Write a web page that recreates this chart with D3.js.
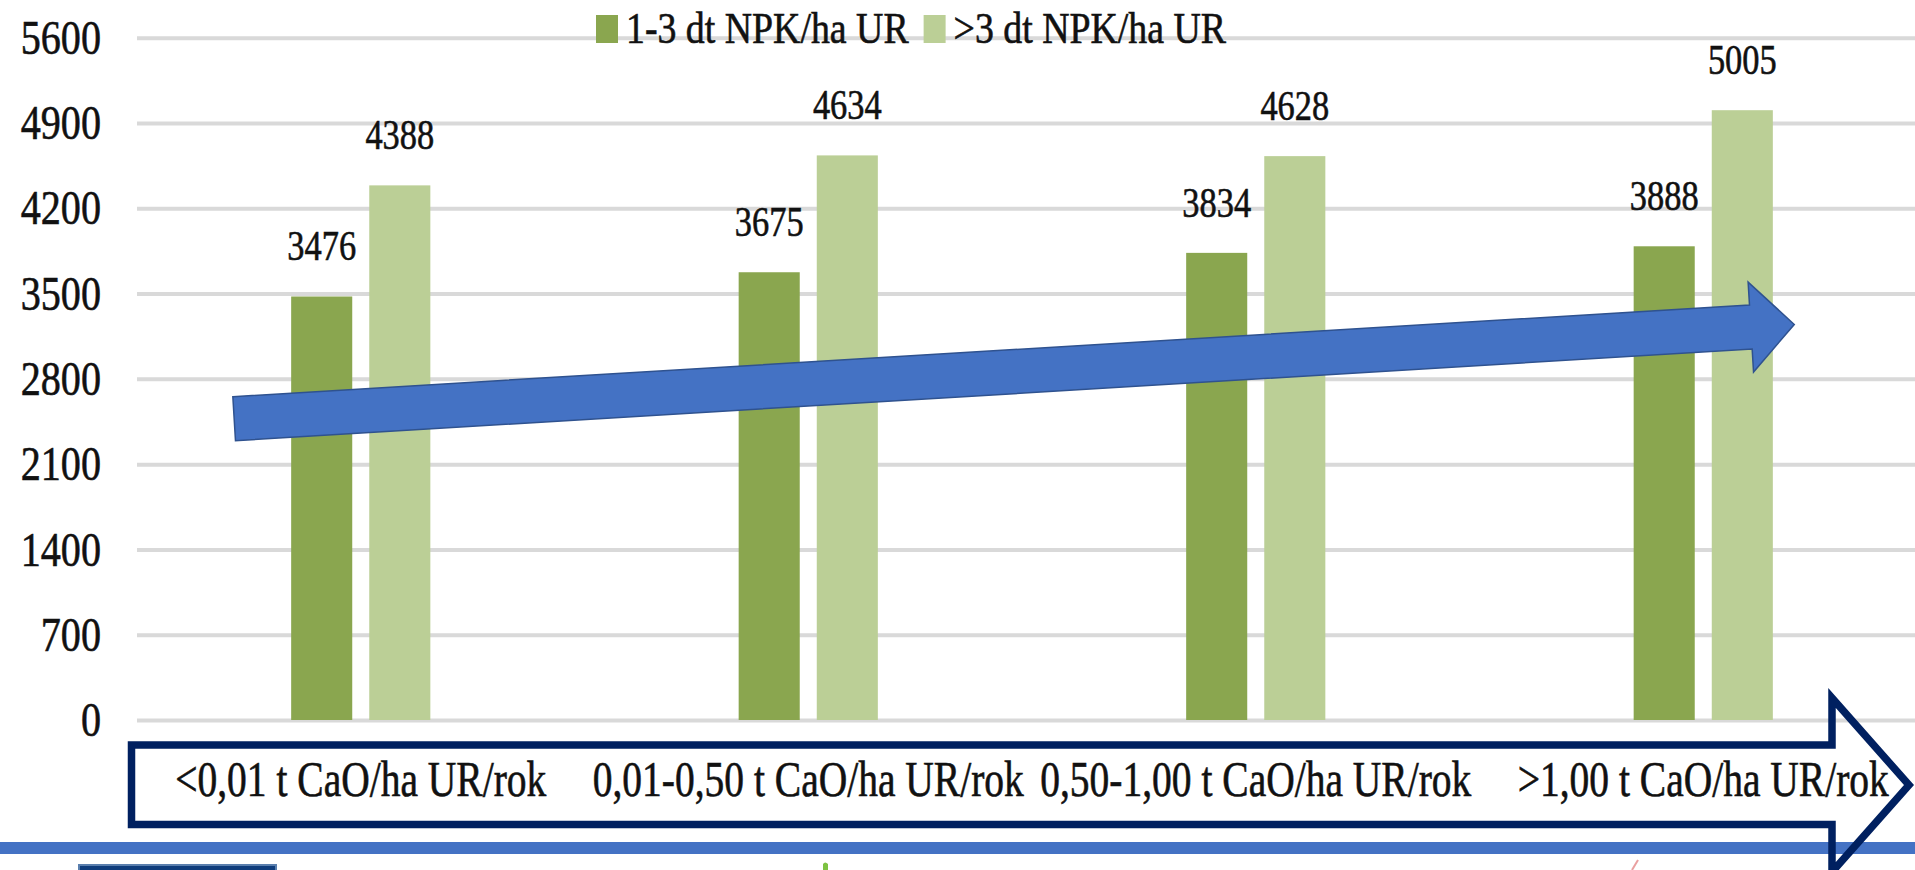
<!DOCTYPE html>
<html>
<head>
<meta charset="utf-8">
<script src="https://cdn.jsdelivr.net/npm/d3@7"></script>
<style>
  body { margin: 0; background: #fff; }
  svg { display: block; }
  text { font-family: "Liberation Serif", "Times New Roman", serif; fill: #111; stroke: #111; stroke-width: 0.6px; }
</style>
</head>
<body>
<svg id="chart"></svg>
<script>
// values
var categories = ["<0,01 t CaO/ha UR/rok", "0,01-0,50 t CaO/ha UR/rok", "0,50-1,00 t CaO/ha UR/rok", ">1,00 t CaO/ha UR/rok"];
var seriesNames = ["1-3 dt NPK/ha UR", ">3 dt NPK/ha UR"];
var lowNpk = [3476, 3675, 3834, 3888];
var highNpk = [4388, 4634, 4628, 5005];
var yTicks = [0, 700, 1400, 2100, 2800, 3500, 4200, 4900, 5600];
var trendEnds = [2473, 3225]; // centre of the blue arrow, in y units, at its tail and head

var colors = ["#8aa64f", "#bbcf96"];
var width = 1915, height = 870;
var sx = 0.8; // the source chart is squeezed horizontally

var svg = d3.select("#chart").attr("width", width).attr("height", height);

var x0 = d3.scaleBand().domain(categories).range([137, 1927]).paddingInner(0.689).paddingOuter(0.3445);
var x1 = d3.scaleBand().domain(seriesNames).range([0, x0.bandwidth()]).paddingInner(0.218);
var y = d3.scaleLinear().domain([0, 5600]).range([720, 37.7]);

// gridlines + tick labels
var yAxis = svg.append("g")
  .attr("transform", "translate(137,0)")
  .call(d3.axisLeft(y).tickValues(yTicks).tickSize(-(width - 137)).tickFormat(d3.format("d")));
yAxis.select(".domain").remove();
yAxis.selectAll("line").attr("stroke", "#d9d9d9").attr("stroke-width", 4);
yAxis.selectAll("text")
  .attr("x", null)
  .attr("transform", "translate(-36,0) scale(0.82,1)")
  .style("font-family", '"Liberation Serif", serif')
  .style("font-size", "49px")
  .attr("fill", "#111");

// bars
var rows = categories.map(function(c, i) { return {cat: c, vals: [lowNpk[i], highNpk[i]]}; });

var group = svg.selectAll(".grp")
  .data(rows)
  .enter().append("g")
    .attr("class", "grp")
    .attr("transform", function(d) { return "translate(" + x0(d.cat) + ",0)"; });

var bar = group.selectAll("g")
  .data(function(d) { return d.vals.map(function(v, i) { return {s: seriesNames[i], v: v, i: i}; }); })
  .enter().append("g");

bar.append("rect")
  .attr("x", function(d) { return x1(d.s); })
  .attr("y", function(d) { return y(d.v); })
  .attr("width", x1.bandwidth())
  .attr("height", function(d) { return y(0) - y(d.v); })
  .attr("fill", function(d) { return colors[d.i]; });

bar.append("text")
  .attr("transform", function(d) {
    return "translate(" + (x1(d.s) + x1.bandwidth() / 2) + "," + (y(d.v) - 36) + ") scale(" + sx + ",1)";
  })
  .attr("text-anchor", "middle")
  .style("font-size", "43px")
  .text(function(d) { return d.v; });

// blue trend arrow
(function() {
  var tail = [x0(categories[0]) - 57, y(trendEnds[0])];
  var head = [x0(categories[3]) + x0.bandwidth() - 22, y(trendEnds[1])];
  var dx = head[0] - tail[0], dy = head[1] - tail[1], len = Math.sqrt(dx * dx + dy * dy);
  var u = [dx / len, dy / len], n = [-u[1], u[0]];
  var shaft = 22, wing = 45, tipLen = 43.5;
  function p(b, a, k) { return [b[0] + a[0] * k, b[1] + a[1] * k]; }
  var pts = [
    p(tail, n, -shaft), p(head, n, -shaft), p(head, n, -wing),
    p(head, u, tipLen),
    p(head, n, wing), p(head, n, shaft), p(tail, n, shaft)
  ];
  svg.append("path")
    .attr("d", d3.line()(pts) + "Z")
    .attr("fill", "#4472c4")
    .attr("stroke", "#2f528f")
    .attr("stroke-width", 1.5)
    .attr("stroke-linejoin", "miter");
})();

// legend
var legend = svg.append("g").attr("transform", "translate(596,0)");
var lx = 0;
seriesNames.forEach(function(name, i) {
  legend.append("rect").attr("x", lx).attr("y", 15).attr("width", 22).attr("height", 28).attr("fill", colors[i]);
  var t = legend.append("text")
    .attr("transform", "translate(" + (lx + 30) + ",43) scale(0.86,1)")
    .style("font-size", "44px")
    .text(name);
  lx += 30 + t.node().getComputedTextLength() * 0.86 + 15;
});

// footer band
svg.append("rect").attr("x", 0).attr("y", 842).attr("width", width).attr("height", 12).attr("fill", "#4472c4");
svg.append("rect").attr("x", 79).attr("y", 865).attr("width", 197).attr("height", 10)
  .attr("fill", "#0f3d7c").attr("stroke", "#5a7fae").attr("stroke-width", 2);
svg.append("path").attr("d", "M823,870 L823,864 Q825,861 828,864 L828,870 Z").attr("fill", "#7dc242");
svg.append("path").attr("d", "M1632,870 L1638,860").attr("stroke", "#e9a0a0").attr("stroke-width", 2);

// category frame (outlined arrow) and labels
var fl = 131.5, ft = 745, fb = 824.5, fh = 1832, ftip = 1909;
svg.append("path")
  .attr("d", "M" + fl + "," + ft + "H" + fh + "V698L" + ftip + ",785L" + fh + ",872V" + fb + "H" + fl + "Z")
  .attr("fill", "none")
  .attr("stroke", "#002060")
  .attr("stroke-width", 7.5)
  .attr("stroke-linejoin", "miter");

svg.selectAll(".cat")
  .data(categories)
  .enter().append("text")
    .attr("class", "cat")
    .attr("transform", function(d) { return "translate(" + (x0(d) + x0.bandwidth() / 2) + ",796) scale(0.79,1)"; })
    .attr("text-anchor", "middle")
    .style("font-size", "50px")
    .text(function(d) { return d; });
</script>
</body>
</html>
